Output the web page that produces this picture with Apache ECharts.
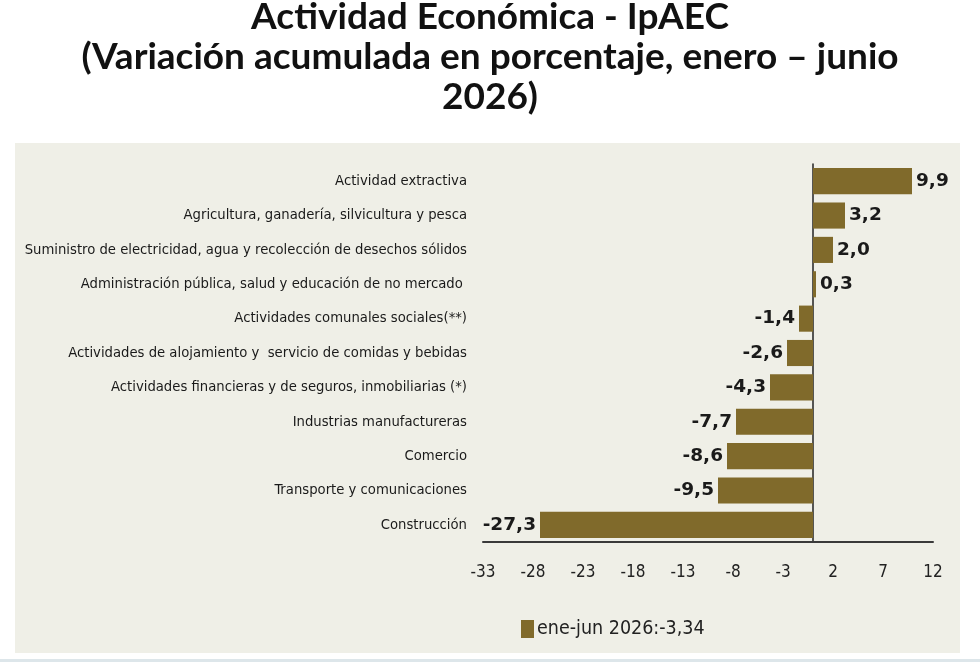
<!DOCTYPE html>
<html>
<head>
<meta charset="utf-8">
<script src="https://cdn.jsdelivr.net/npm/echarts@6/dist/echarts.min.js"></script>
<style>
  html, body { margin: 0; padding: 0; background: #fff; }
  #chart { width: 980px; height: 665px; }
</style>
</head>
<body>
<div id="chart"></div>
<script>
var categories = [
    'Actividad extractiva',
    'Agricultura, ganadería, silvicultura y pesca',
    'Suministro de electricidad, agua y recolección de desechos sólidos',
    'Administración pública, salud y educación de no mercado ',
    'Actividades comunales sociales(**)',
    'Actividades de alojamiento y  servicio de comidas y bebidas',
    'Actividades financieras y de seguros, inmobiliarias (*)',
    'Industrias manufactureras',
    'Comercio',
    'Transporte y comunicaciones',
    'Construcción'
];
var values = [9.9, 3.2, 2.0, 0.3, -1.4, -2.6, -4.3, -7.7, -8.6, -9.5, -27.3];
var seriesName = 'ene-jun 2026:-3,34';
var titleText = 'Actividad Económica - IpAEC\n(Variación acumulada en porcentaje, enero – junio\n2026)';

var narrow = '"Liberation Sans Narrow", "DejaVu Sans Condensed", sans-serif';

var myChart = echarts.init(document.getElementById('chart'));

// negative values get their label on the left of the bar
var barData = values.map(function (v) {
    return {
        value: v,
        label: { position: v < 0 ? 'left' : 'right' }
    };
});

var option = {
    backgroundColor: '#ffffff',
    animation: false,
    title: {
        text: titleText,
        left: 'center',
        top: -8,
        textStyle: {
            fontFamily: 'Lato, sans-serif',
            fontSize: 37,
            fontWeight: 'bold',
            color: '#111',
            lineHeight: 40,
            align: 'center'
        }
    },
    graphic: [{
        type: 'rect',
        z: -10,
        shape: { x: 15, y: 143, width: 945, height: 510 },
        style: { fill: '#efefe7' }
    }, {
        type: 'rect',
        z: -10,
        shape: { x: 0, y: 659, width: 980, height: 3 },
        style: { fill: '#dde6ea' }
    }],
    legend: {
        left: 516,
        top: 614,
        itemWidth: 13,
        itemHeight: 18,
        itemGap: 4,
        data: [{ name: seriesName, icon: 'rect' }],
        textStyle: {
            fontFamily: narrow,
            fontSize: 19.5,
            color: '#222',
            padding: [0, 0, 0, -2]
        }
    },
    grid: {
        left: 483,
        right: 47,
        top: 164,
        bottom: 123,
        outerBoundsMode: 'none'
    },
    xAxis: {
        type: 'value',
        min: -33,
        max: 12,
        interval: 5,
        splitLine: { show: false },
        axisTick: { show: false },
        axisLine: { show: true, onZero: false, lineStyle: { color: '#3a3a3a', width: 2 } },
        axisLabel: {
            margin: 22,
            fontFamily: narrow,
            fontSize: 17,
            color: '#222'
        }
    },
    yAxis: {
        type: 'category',
        inverse: true,
        data: categories,
        axisTick: { show: false },
        axisLine: { show: true, lineStyle: { color: '#222', width: 1.5 } },
        axisLabel: {
            margin: 16,
            fontFamily: narrow,
            fontSize: 14.7,
            color: '#1a1a1a'
        }
    },
    series: [{
        name: seriesName,
        type: 'bar',
        data: barData,
        barCategoryGap: '24%',
        itemStyle: { color: '#806a2b' },
        label: {
            show: true,
            distance: 4,
            fontFamily: '"DejaVu Sans", sans-serif',
            fontWeight: 'bold',
            fontSize: 18.5,
            color: '#1a1a1a',
            formatter: function (p) {
                return p.value.toFixed(1).replace('.', ',');
            }
        }
    }]
};
myChart.setOption(option);
</script>
</body>
</html>
